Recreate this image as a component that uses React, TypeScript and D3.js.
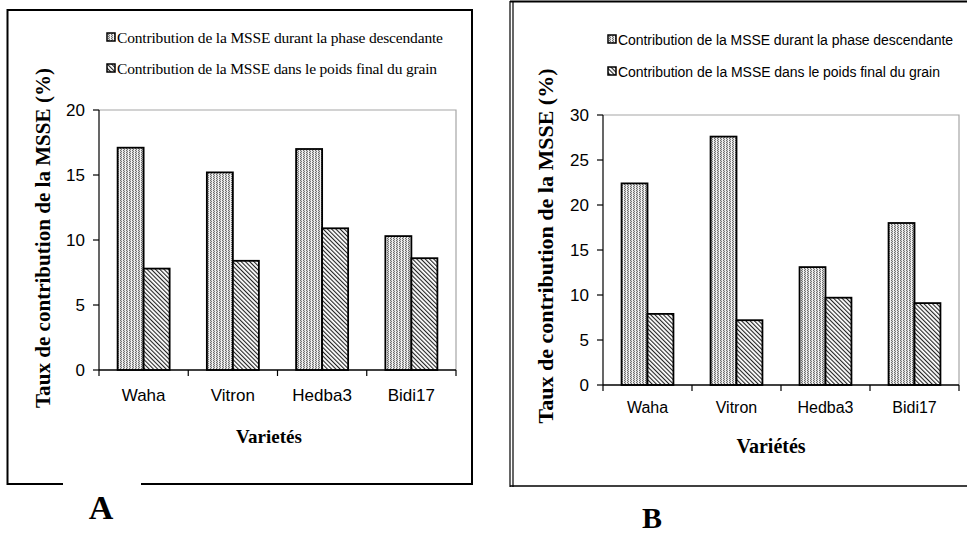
import React from "react";
import * as d3 from "d3";

const categories = ["Waha", "Vitron", "Hedba3", "Bidi17"];
const seriesKeys = ["phase", "final"];

const phaseA = [17.1, 15.2, 17.0, 10.3];
const finalA = [7.8, 8.4, 10.9, 8.6];
const phaseB = [22.4, 27.6, 13.1, 18.0];
const finalB = [7.9, 7.2, 9.7, 9.1];

const ticksA = [0, 5, 10, 15, 20];
const ticksB = [0, 5, 10, 15, 20, 25, 30];

const legendLabels = [
  "Contribution de la MSSE durant la phase descendante",
  "Contribution de la MSSE dans le poids final du grain",
];
const legendLabelsB = [
  "Contribution  de la MSSE durant  la phase  descendante",
  "Contribution  de la MSSE dans le poids final du grain",
];
const yTitle = "Taux de contribution de la MSSE (%)";

const SANS = "'Liberation Sans', Arial, sans-serif";
const SERIF = "'Liberation Serif', 'Times New Roman', serif";

type PanelProps = {
  id: string;
  phase: number[];
  final: number[];
  ticks: number[];
  left: number;
  right: number;
  top: number;
  bottom: number;
  catY: number;
  catSize: number;
  tickSize: number;
  titleX: number;
  titleY: number;
  titleLen: number;
  xTitle: string;
  xTitleX: number;
  xTitleY: number;
  xTitleSize: number;
  legend: string[];
  legendX: number;
  legendY: number[];
  legendLen: number[];
  legendFont: string;
  legendSize: number;
};

function Panel(p: PanelProps) {
  const x = d3
    .scaleBand<string>()
    .domain(categories)
    .range([p.left, p.right])
    .paddingInner(0.417)
    .paddingOuter(0.2085);
  const xs = d3.scaleBand<string>().domain(seriesKeys).range([0, x.bandwidth()]);
  const y = d3
    .scaleLinear()
    .domain([0, d3.max(p.ticks) as number])
    .range([p.bottom, p.top]);
  const step = x.step();
  const bounds = d3.range(categories.length + 1).map((i) => p.left + i * step);
  const values = [p.phase, p.final];
  const fills = [`url(#dots-${p.id})`, `url(#diag-${p.id})`];

  return (
    <g>
      <defs>
        <pattern id={`dots-${p.id}`} width={3} height={2} patternUnits="userSpaceOnUse">
          <rect width={3} height={2} fill="#d2d2d2" />
          <rect x={0} y={0} width={1} height={1} fill="#6a6a6a" />
          <rect x={1} y={1} width={1} height={1} fill="#7a7a7a" />
          <rect x={2} y={0} width={1} height={2} fill="#f2f2f2" />
        </pattern>
        <pattern
          id={`diag-${p.id}`}
          width={3}
          height={3}
          patternUnits="userSpaceOnUse"
          patternTransform="rotate(-45)"
        >
          <rect width={3} height={3} fill="#fff" />
          <rect x={0} y={0} width={1.1} height={3} fill="#222" />
        </pattern>
      </defs>

      {/* plot area border (top/right grey) */}
      <path
        d={`M${p.left},${p.top}H${p.right}V${p.bottom}`}
        fill="none"
        stroke="#a6a6a6"
        strokeWidth={1.2}
      />

      {/* bars */}
      {categories.map((c, i) =>
        seriesKeys.map((s, j) => (
          <rect
            key={c + s}
            x={(x(c) as number) + (xs(s) as number)}
            y={y(values[j][i])}
            width={xs.bandwidth()}
            height={p.bottom - y(values[j][i])}
            fill={fills[j]}
            stroke="#000"
            strokeWidth={1.8}
          />
        ))
      )}

      {/* y axis */}
      <line x1={p.left} x2={p.left} y1={p.top} y2={p.bottom} stroke="#000" strokeWidth={1.2} />
      {p.ticks.map((t) => (
        <g key={t}>
          <line x1={p.left - 6} x2={p.left} y1={y(t)} y2={y(t)} stroke="#000" strokeWidth={1.2} />
          <text
            x={p.left - 14}
            y={y(t)}
            dy="0.35em"
            textAnchor="end"
            fontFamily={SANS}
            fontSize={p.tickSize}
          >
            {t}
          </text>
        </g>
      ))}

      {/* x axis */}
      <line x1={p.left} x2={p.right} y1={p.bottom} y2={p.bottom} stroke="#000" strokeWidth={1.4} />
      {bounds.map((b, i) => (
        <line key={i} x1={b} x2={b} y1={p.bottom} y2={p.bottom + 6} stroke="#000" strokeWidth={1.2} />
      ))}
      {categories.map((c) => (
        <text
          key={c}
          x={(x(c) as number) + x.bandwidth() / 2}
          y={p.catY}
          textAnchor="middle"
          fontFamily={SANS}
          fontSize={p.catSize}
        >
          {c}
        </text>
      ))}

      {/* axis titles */}
      <text
        transform={`translate(${p.titleX},${p.titleY}) rotate(-90)`}
        textAnchor="middle"
        dy="0.35em"
        fontFamily={SERIF}
        fontWeight="bold"
        fontSize={20}
        textLength={p.titleLen}
        lengthAdjust="spacingAndGlyphs"
      >
        {yTitle}
      </text>
      <text
        x={p.xTitleX}
        y={p.xTitleY}
        textAnchor="middle"
        fontFamily={SERIF}
        fontWeight="bold"
        fontSize={p.xTitleSize}
      >
        {p.xTitle}
      </text>

      {/* legend */}
      {p.legend.map((l, j) => (
        <g key={l}>
          <rect
            x={p.legendX - 10}
            y={p.legendY[j] - 10}
            width={8}
            height={8}
            fill={fills[j]}
            stroke="#000"
            strokeWidth={1.5}
          />
          <text
            x={p.legendX}
            y={p.legendY[j]}
            fontFamily={p.legendFont}
            fontSize={p.legendSize}
            textLength={p.legendLen[j]}
            lengthAdjust="spacing"
          >
            {l}
          </text>
        </g>
      ))}
    </g>
  );
}

export default function App() {
  return (
    <svg
      width={967}
      height={533}
      style={{ position: "absolute", left: 0, top: 0, background: "#fff" }}
    >
      <rect width={967} height={533} fill="#fff" />

      {/* frame A */}
      <rect x={7.5} y={10} width={464.5} height={474} fill="none" stroke="#000" strokeWidth={2} />
      <rect x={63} y={481} width={78} height={6} fill="#fff" />

      {/* frame B */}
      <line x1={510} x2={510} y1={1} y2={487} stroke="#000" strokeWidth={1.2} />
      <line x1={513} x2={513} y1={1} y2={487} stroke="#000" strokeWidth={1.2} />
      <line x1={510} x2={967} y1={1.5} y2={1.5} stroke="#000" strokeWidth={2} />
      <line x1={510} x2={967} y1={486} y2={486} stroke="#000" strokeWidth={1.6} />

      <Panel
        id="a"
        phase={phaseA}
        final={finalA}
        ticks={ticksA}
        left={99}
        right={456}
        top={110}
        bottom={370}
        catY={401}
        catSize={17}
        tickSize={17}
        titleX={43}
        titleY={238}
        titleLen={340}
        xTitle="Varietés"
        xTitleX={269}
        xTitleY={443}
        xTitleSize={19}
        legend={legendLabels}
        legendX={117}
        legendY={[43, 74]}
        legendLen={[326, 320]}
        legendFont={SERIF}
        legendSize={15.5}
      />
      <Panel
        id="b"
        phase={phaseB}
        final={finalB}
        ticks={ticksB}
        left={603}
        right={959}
        top={115}
        bottom={385}
        catY={413}
        catSize={16}
        tickSize={17}
        titleX={546}
        titleY={246}
        titleLen={355}
        xTitle="Variétés"
        xTitleX={771}
        xTitleY={453}
        xTitleSize={20}
        legend={legendLabelsB}
        legendX={618}
        legendY={[45, 77]}
        legendLen={[335, 322]}
        legendFont={SANS}
        legendSize={14}
      />

      <text x={101} y={519} textAnchor="middle" fontFamily={SERIF} fontWeight="bold" fontSize={34}>
        A
      </text>
      <text x={652} y={528} textAnchor="middle" fontFamily={SERIF} fontWeight="bold" fontSize={30}>
        B
      </text>
    </svg>
  );
}
